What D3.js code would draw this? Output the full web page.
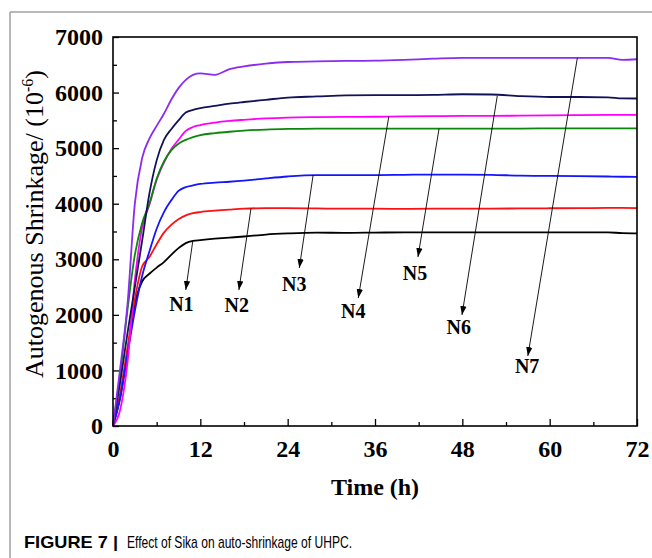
<!DOCTYPE html>
<html>
<head>
<meta charset="utf-8">
<script src="https://cdn.jsdelivr.net/npm/d3@7"></script>
<style>
  html, body { margin: 0; padding: 0; background: #fff; }
  svg { display: block; }
</style>
</head>
<body>
<div id="main"></div>
<script>
// hours
var times = [0, 1, 2, 3, 4, 5, 6, 7, 8, 9, 10, 11, 12, 14, 16, 18, 21, 24, 28, 32, 36, 40, 44, 48, 52, 56, 60, 64, 68, 70, 72]

// autogenous shrinkage (10^-6)
var n1 = [0, 520, 1330, 2200, 2600, 2740, 2850, 2950, 3080, 3200, 3290, 3330, 3345, 3370, 3390, 3410, 3445, 3465, 3480, 3475, 3480, 3485, 3485, 3485, 3485, 3485, 3485, 3485, 3485, 3470, 3467]
var n2 = [0, 600, 1420, 2280, 2870, 3040, 3270, 3480, 3620, 3720, 3790, 3830, 3850, 3875, 3895, 3912, 3920, 3920, 3915, 3910, 3910, 3908, 3910, 3910, 3912, 3915, 3918, 3920, 3925, 3925, 3922]
var n3 = [0, 520, 1300, 2070, 2700, 3140, 3550, 3850, 4060, 4230, 4300, 4330, 4355, 4380, 4395, 4415, 4455, 4490, 4515, 4515, 4515, 4520, 4525, 4525, 4520, 4505, 4500, 4495, 4490, 4485, 4482]
var n4 = [0, 300, 1150, 2620, 3570, 3980, 4430, 4740, 4980, 5150, 5310, 5380, 5415, 5460, 5490, 5510, 5535, 5550, 5558, 5562, 5565, 5570, 5575, 5580, 5580, 5585, 5590, 5595, 5598, 5600, 5598]
var n5 = [0, 950, 2100, 3080, 3650, 4000, 4450, 4760, 4960, 5080, 5150, 5200, 5235, 5270, 5295, 5315, 5335, 5345, 5350, 5352, 5352, 5350, 5350, 5350, 5352, 5352, 5355, 5355, 5355, 5355, 5355]
var n6 = [0, 800, 1680, 2500, 3330, 4180, 4780, 5150, 5340, 5500, 5640, 5690, 5720, 5760, 5800, 5830, 5870, 5910, 5930, 5950, 5955, 5955, 5960, 5970, 5965, 5935, 5920, 5920, 5915, 5895, 5893]
var n7 = [0, 1050, 2200, 4000, 4820, 5170, 5400, 5620, 5870, 6080, 6230, 6320, 6345, 6320, 6420, 6470, 6520, 6550, 6560, 6570, 6575, 6590, 6610, 6625, 6625, 6625, 6625, 6625, 6625, 6590, 6600]

var names = ['N1', 'N2', 'N3', 'N4', 'N5', 'N6', 'N7']
var colors = ['#000000', '#ff1010', '#1414ff', '#ff00ff', '#0a870a', '#121258', '#8a2cf0']

// arrow annotations: [t0, v0, t1, v1] from curve to label, label at [t, v]
var arrows = [
  [10.95, 3317, 10.0, 2447],
  [18.96, 3915, 17.3, 2447],
  [27.5, 4517, 25.6, 2843],
  [37.9, 5570, 33.7, 2303],
  [44.8, 5350, 41.9, 3041],
  [52.8, 5940, 47.95, 1997],
  [63.8, 6620, 57.0, 1259]
]
var labelPos = [[9.4, 2070], [17.0, 2051], [24.9, 2429], [33.0, 1943], [41.5, 2627], [47.5, 1655], [56.9, 954]]

var xTicks = [0, 12, 24, 36, 48, 60, 72]
var yTicks = [0, 1000, 2000, 3000, 4000, 5000, 6000, 7000]

var w = 652
var h = 558
var svg = d3.select('div#main').append('svg')
  .attr('width', w)
  .attr('height', h)
  .attr('viewBox', [0, 0, w, h].join(' '))

// card border
svg.append('line').attr('x1', 10).attr('y1', 12).attr('x2', w).attr('y2', 12)
  .attr('stroke', '#a0a0a0').attr('stroke-width', 1.5)
svg.append('line').attr('x1', 10).attr('y1', 12).attr('x2', 10).attr('y2', h)
  .attr('stroke', '#a0a0a0').attr('stroke-width', 1.5)

var pLeft = 113
var pRight = 637
var pTop = 37
var pBottom = 426

var x = d3.scaleLinear().domain([0, 72]).range([pLeft, pRight])
var y = d3.scaleLinear().domain([0, 7000]).range([pBottom, pTop])

var serif = '"Liberation Serif", "Times New Roman", serif'

// minor ticks
svg.append('g').attr('transform', 'translate(0,' + pBottom + ')')
  .call(d3.axisBottom(x).tickValues(d3.range(6, 72, 12)).tickSize(-4).tickFormat(''))
svg.append('g').attr('transform', 'translate(' + pLeft + ',0)')
  .call(d3.axisLeft(y).tickValues(d3.range(500, 7000, 1000)).tickSize(-4).tickFormat(''))

// major ticks
svg.append('g').attr('transform', 'translate(0,' + pBottom + ')')
  .call(d3.axisBottom(x).tickValues(xTicks).tickSize(-7).tickPadding(14).tickFormat(d3.format('d')))
svg.append('g').attr('transform', 'translate(' + pLeft + ',0)')
  .call(d3.axisLeft(y).tickValues(yTicks).tickSize(-6).tickPadding(10).tickFormat(d3.format('d')))

svg.selectAll('.domain').remove()
svg.selectAll('.tick line').attr('stroke', '#000').attr('stroke-width', 1.3)
svg.selectAll('.tick text')
  .attr('fill', '#000')
  .style('font-family', serif)
  .style('font-weight', 'bold')
  .style('font-size', '24px')

var line = d3.line()
  .x(function (d) { return x(d[0]) })
  .y(function (d) { return y(d[1]) })
  .curve(d3.curveMonotoneX)

;[n1, n2, n3, n4, n5, n6, n7].forEach(function (s, i) {
  var pts = times.map(function (t, j) { return [t, s[j]] })
  svg.append('path')
    .attr('d', line(pts))
    .attr('fill', 'none')
    .attr('stroke', colors[i])
    .attr('stroke-width', 1.8)
})

// frame
svg.append('rect')
  .attr('x', pLeft).attr('y', pTop)
  .attr('width', pRight - pLeft).attr('height', pBottom - pTop)
  .attr('fill', 'none').attr('stroke', '#000').attr('stroke-width', 1.6)

// arrows
svg.append('defs').append('marker')
  .attr('id', 'head')
  .attr('viewBox', '0 0 10 10')
  .attr('refX', 10).attr('refY', 5)
  .attr('markerWidth', 9).attr('markerHeight', 9)
  .attr('markerUnits', 'userSpaceOnUse')
  .attr('orient', 'auto')
  .append('path').attr('d', 'M0,1.5 L10,5 L0,8.5 Z').attr('fill', '#000')

arrows.forEach(function (a, i) {
  svg.append('line')
    .attr('x1', x(a[0])).attr('y1', y(a[1]))
    .attr('x2', x(a[2])).attr('y2', y(a[3]))
    .attr('stroke', '#000').attr('stroke-width', 0.9)
    .attr('marker-end', 'url(#head)')
  svg.append('text')
    .attr('x', x(labelPos[i][0])).attr('y', y(labelPos[i][1]))
    .attr('text-anchor', 'middle')
    .style('font-family', serif)
    .style('font-weight', 'bold')
    .style('font-size', '20px')
    .text(names[i])
})

// axis titles
svg.append('text')
  .attr('x', (pLeft + pRight) / 2).attr('y', 495)
  .attr('text-anchor', 'middle')
  .style('font-family', serif)
  .style('font-weight', 'bold')
  .style('font-size', '24px')
  .text('Time (h)')

var yt = svg.append('text')
  .attr('transform', 'translate(43,' + 224 + ') rotate(-90)')
  .attr('text-anchor', 'middle')
  .style('font-family', serif)
  .style('font-size', '26px')
yt.append('tspan').text('Autogenous Shrinkage/ (10')
yt.append('tspan').attr('dy', -10).style('font-size', '16px').text('-6')
yt.append('tspan').attr('dy', 10).text(')')

// caption
var sans = '"Liberation Sans", Arial, sans-serif'
svg.append('text')
  .attr('x', 24).attr('y', 548)
  .attr('textLength', 94).attr('lengthAdjust', 'spacingAndGlyphs')
  .style('font-family', sans).style('font-weight', 'bold').style('font-size', '17px')
  .text('FIGURE 7 |')
svg.append('text')
  .attr('x', 127).attr('y', 548)
  .attr('textLength', 225).attr('lengthAdjust', 'spacingAndGlyphs')
  .style('font-family', sans).style('font-size', '17px')
  .text('Effect of Sika on auto-shrinkage of UHPC.')
</script>
</body>
</html>
